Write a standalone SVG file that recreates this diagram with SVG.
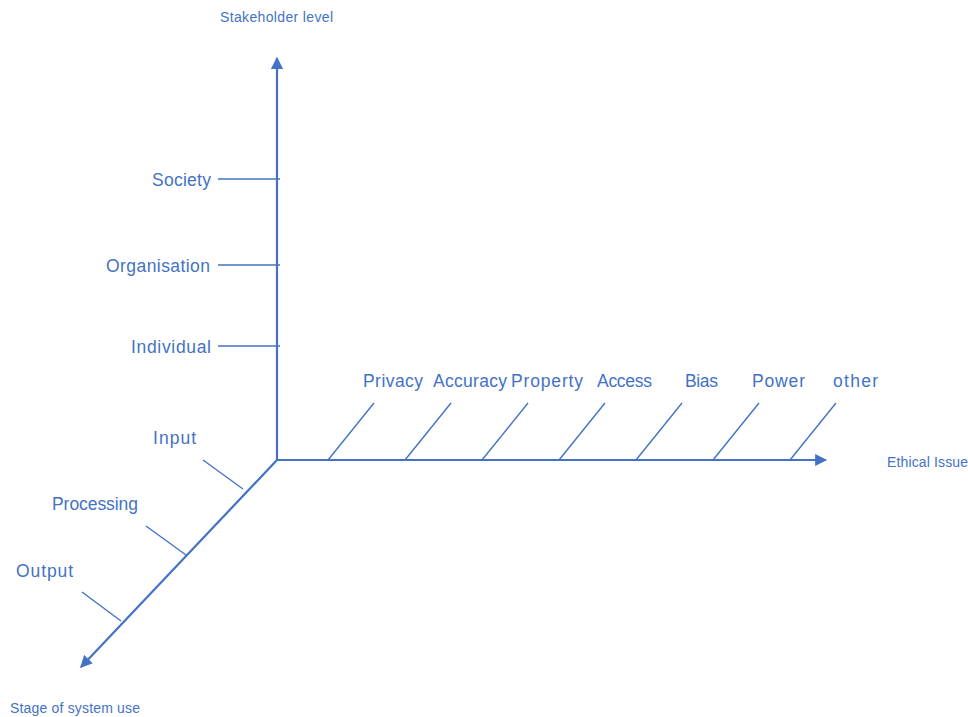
<svg xmlns="http://www.w3.org/2000/svg" width="968" height="717" viewBox="0 0 968 717">
<style>
.ax{stroke:#4472C4;stroke-width:2.2;fill:none}
.tk{stroke:#4472C4;stroke-width:1.4;fill:none}
.lb{font-family:"Liberation Sans",Arial,sans-serif;font-size:17.5px;fill:#4472C4}
.sm{font-family:"Liberation Sans",Arial,sans-serif;font-size:14px;fill:#4472C4}
</style>
<defs>
<marker id="ah" viewBox="0 0 10 10" refX="9" refY="5" markerWidth="5.5" markerHeight="5.5" orient="auto" markerUnits="strokeWidth">
<path d="M0,0 L10,5 L0,10 z" fill="#4472C4"/>
</marker>
</defs>
<rect width="968" height="717" fill="#fff"/>
<g id="connectors">
<line class="ax" x1="277" y1="461" x2="277" y2="58" marker-end="url(#ah)"/>
<line class="ax" x1="276" y1="460" x2="826" y2="460" marker-end="url(#ah)"/>
<line class="ax" x1="277" y1="460" x2="81" y2="667" marker-end="url(#ah)"/>
<line class="tk" x1="218" y1="179" x2="280" y2="179"/>
<line class="tk" x1="218" y1="265" x2="280" y2="265"/>
<line class="tk" x1="218" y1="346" x2="280" y2="346"/>
<line class="tk" x1="203" y1="460" x2="243" y2="489"/>
<line class="tk" x1="146" y1="526" x2="186" y2="555"/>
<line class="tk" x1="82" y1="592" x2="121" y2="621"/>
<line class="tk" x1="328" y1="460" x2="374" y2="403"/>
<line class="tk" x1="405" y1="460" x2="451" y2="403"/>
<line class="tk" x1="482" y1="460" x2="528" y2="403"/>
<line class="tk" x1="559" y1="460" x2="605" y2="403"/>
<line class="tk" x1="636" y1="460" x2="682" y2="403"/>
<line class="tk" x1="713" y1="460" x2="759" y2="403"/>
<line class="tk" x1="790" y1="460" x2="836" y2="403"/>
</g>
<g id="axis-stakeholder"><text class="sm" x="220" y="22" textLength="113">Stakeholder level</text></g>
<g id="axis-ethical"><text class="sm" x="887" y="467" textLength="81">Ethical Issue</text></g>
<g id="axis-stage"><text class="sm" x="10" y="713" textLength="130">Stage of system use</text></g>
<g id="society"><text class="lb" x="152" y="186" textLength="59">Society</text></g>
<g id="organisation"><text class="lb" x="106" y="272" textLength="104">Organisation</text></g>
<g id="individual"><text class="lb" x="131" y="353" textLength="80">Individual</text></g>
<g id="input"><text class="lb" x="153" y="444" textLength="43">Input</text></g>
<g id="processing"><text class="lb" x="52" y="510" textLength="86">Processing</text></g>
<g id="output"><text class="lb" x="16" y="577" textLength="57">Output</text></g>
<g id="privacy"><text class="lb" x="363" y="387" textLength="60">Privacy</text></g>
<g id="accuracy"><text class="lb" x="433" y="387" textLength="74">Accuracy</text></g>
<g id="property"><text class="lb" x="511" y="387" textLength="72">Property</text></g>
<g id="access"><text class="lb" x="597" y="387" textLength="55">Access</text></g>
<g id="bias"><text class="lb" x="685" y="387" textLength="33">Bias</text></g>
<g id="power"><text class="lb" x="752" y="387" textLength="53">Power</text></g>
<g id="other"><text class="lb" x="833" y="387" textLength="45">other</text></g>
</svg>
